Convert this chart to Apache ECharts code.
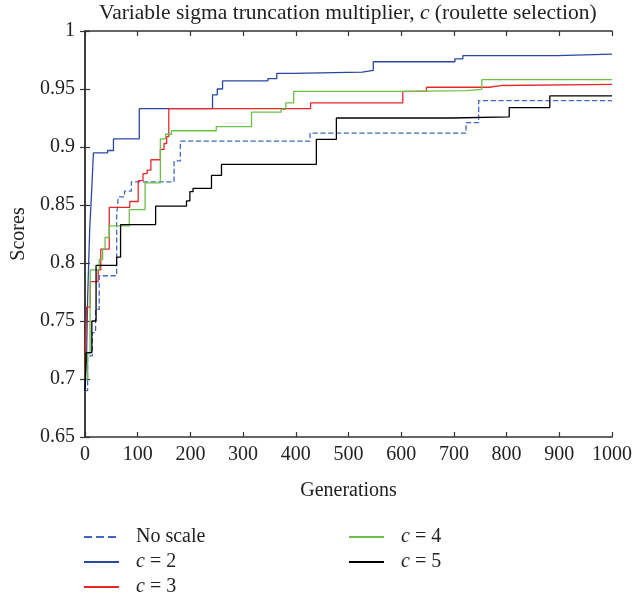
<!DOCTYPE html>
<html>
<head>
<meta charset="utf-8">
<script src="https://cdn.jsdelivr.net/npm/echarts@6/dist/echarts.min.js"></script>
<style>
html,body{margin:0;padding:0;background:#fff;}
#chart{width:635px;height:602px;}
</style>
</head>
<body>
<div id="chart"></div>
<script>
// ---- Data (generation, best score) step points ----
const seriesNames = ['No scale', 'c = 2', 'c = 3', 'c = 4', 'c = 5'];
const xTicks = [0, 100, 200, 300, 400, 500, 600, 700, 800, 900, 1000];
const yTicks = [0.65, 0.7, 0.75, 0.8, 0.85, 0.9, 0.95, 1];

const noScale = [[0,0.69],[5,0.72],[14,0.74],[20,0.76],[27,0.789],[60,0.84],[63,0.857],[75,0.862],[88,0.870],[169,0.888],[181,0.905],[427,0.912],[723,0.921],[747,0.940],[1000,0.940]];
const c2 = [[0,0.69],[3,0.72],[5,0.77],[7,0.80],[9,0.83],[12.6,0.862],[16,0.895],[43,0.897],[54,0.907],[103,0.933],[242,0.945],[251,0.950],[261,0.957],[347,0.959],[364,0.9635],[393,0.9645],[526,0.966],[547,0.9735],[702,0.976],[717,0.9787],[896,0.980],[1000,0.980]];
const c3 = [[0,0.70],[3,0.762],[10,0.784],[25,0.794],[30,0.812],[46,0.848],[85,0.853],[101,0.871],[110,0.877],[118,0.880],[125,0.889],[143,0.898],[150,0.903],[155,0.909],[159,0.933],[428,0.938],[603,0.948],[648,0.9515],[767,0.953],[789,0.954],[1000,0.954]];
const c4 = [[0,0.70],[5,0.722],[9.5,0.742],[10,0.794],[27,0.803],[33.5,0.812],[38,0.822],[46,0.832],[84,0.846],[114,0.869],[143,0.907],[153,0.911],[164,0.914],[249,0.9175],[316,0.930],[372,0.9325],[381,0.938],[396,0.948],[615,0.9486],[724,0.9497],[753,0.958],[1000,0.958]];
const c5 = [[0,0.69],[2,0.7227],[13,0.75],[21,0.798],[60,0.805],[67.5,0.833],[134,0.849],[192.6,0.8535],[199,0.8615],[205,0.8644],[240,0.8755],[259,0.885],[439,0.9066],[477,0.925],[696,0.926],[805,0.934],[882,0.944],[1000,0.944]];

const seriesData = [noScale, c2, c3, c4, c5];
const colors = ['#4467c4', '#2a48a0', '#e8272b', '#6cc04a', '#000000'];
const dashes = ['dashed', 'solid', 'solid', 'solid', 'solid'];

const FONT = '"Liberation Serif", "DejaVu Serif", serif';
const FS = 20;
const chart = echarts.init(document.getElementById('chart'), null, {renderer: 'canvas'});

const axisLine = {show: true, lineStyle: {color: '#333', width: 1.5}};
const tickStyle = {show: true, inside: true, length: 5, lineStyle: {color: '#333', width: 1.2}};
const labelStyle = {fontFamily: FONT, fontSize: FS, color: '#222'};

function legendFmt(name) {
  if (name.indexOf('c = ') === 0) return '{i|c} = ' + name.slice(4);
  return name;
}
const legendText = {
  fontFamily: FONT, fontSize: FS, lineHeight: 20, color: '#222', padding: [0, 0, 0, 12],
  rich: {i: {fontFamily: FONT, fontSize: FS, lineHeight: 20, fontStyle: 'italic', color: '#222'}}
};
const legendCommon = {
  orient: 'vertical', top: 527, height: 75, padding: 0, itemWidth: 35, itemHeight: 12, itemGap: 5,
  itemStyle: {opacity: 0}, formatter: legendFmt, textStyle: legendText
};

chart.setOption({
  animation: false,
  backgroundColor: '#fff',
  title: {
    text: 'Variable sigma truncation multiplier, {i|c} (roulette selection)',
    left: 99, top: 2, padding: 0,
    textStyle: {fontFamily: FONT, fontSize: 21.5, fontWeight: 'normal', color: '#222',
      rich: {i: {fontFamily: FONT, fontSize: 21.5, fontStyle: 'italic', color: '#222'}}}
  },
  grid: {left: 85, right: 22, top: 31, bottom: 165},
  legend: [
    Object.assign({left: 83, data: seriesNames.slice(0, 3)}, legendCommon),
    Object.assign({left: 348, data: seriesNames.slice(3)}, legendCommon)
  ],
  xAxis: [{
    type: 'value', position: 'bottom', min: xTicks[0], max: xTicks[xTicks.length - 1], interval: 100,
    axisLine: axisLine, axisTick: tickStyle, splitLine: {show: false},
    axisLabel: Object.assign({margin: 8, formatter: v => String(v)}, labelStyle),
    name: 'Generations', nameLocation: 'middle', nameGap: 44,
    nameTextStyle: {fontFamily: FONT, fontSize: FS, color: '#222'}
  }, {
    type: 'value', position: 'top', min: xTicks[0], max: xTicks[xTicks.length - 1], interval: 100,
    axisLine: axisLine, axisTick: tickStyle, splitLine: {show: false}, axisLabel: {show: false}
  }],
  yAxis: [{
    type: 'value', position: 'left', min: yTicks[0], max: yTicks[yTicks.length - 1], interval: 0.05,
    axisLine: axisLine, axisTick: tickStyle, splitLine: {show: false},
    axisLabel: Object.assign({margin: 10, formatter: v => String(parseFloat(v.toFixed(2)))}, labelStyle),
    name: 'Scores', nameLocation: 'middle', nameGap: 56,
    nameTextStyle: {fontFamily: FONT, fontSize: FS, color: '#222'}
  }, {
    type: 'value', position: 'right', min: yTicks[0], max: yTicks[yTicks.length - 1], interval: 0.05,
    axisLine: axisLine, axisTick: tickStyle, splitLine: {show: false}, axisLabel: {show: false}
  }],
  series: seriesNames.map((n, i) => ({
    name: n, type: 'line', step: 'end', data: seriesData[i],
    showSymbol: false, symbol: 'circle', color: colors[i],
    lineStyle: {color: colors[i], width: 1.3, type: dashes[i]},
    xAxisIndex: 0, yAxisIndex: 0, z: 2 + i
  }))
});
</script>
</body>
</html>
